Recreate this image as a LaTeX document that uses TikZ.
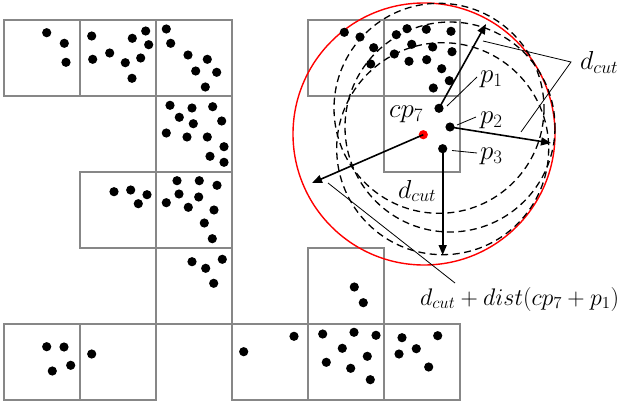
\documentclass[tikz,border=0pt]{standalone}
\usepackage{fix-cm}
\usetikzlibrary{arrows.meta}
\definecolor{gridgray}{RGB}{135,135,135}
\begin{document}
\begin{tikzpicture}[x=1pt,y=-1pt,
  cell/.style={draw=gridgray, line width=1.3pt},
  dot/.style={circle, fill=black, inner sep=0pt, minimum size=9.2pt},
  reddot/.style={circle, fill=red, inner sep=0pt, minimum size=9.2pt},
  dcirc/.style={draw=black, line width=1.3pt, dash pattern=on 7pt off 4.5pt},
  rcirc/.style={draw=red, line width=1.4pt},
  arr/.style={line width=1.6pt, -{Triangle[length=10pt,width=8pt]}},
  lead/.style={line width=0.8pt},
  lab/.style={font=\fontsize{27}{32}\selectfont, inner sep=0pt, anchor=base west},
  dlab/.style={font=\fontsize{26}{31}\selectfont, inner sep=0pt, anchor=base west},
  slab/.style={font=\fontsize{24}{29}\selectfont, inner sep=0pt, anchor=base west}]
\useasboundingbox (0,0) rectangle (621,404);
% grid cells
\foreach \cx/\cy in {0/0,1/0,2/0,2/1,1/2,2/2,2/3,0/4,1/4,3/4,4/4,5/4,4/0,5/0,5/1,4/3}
  \draw[cell] (4+76*\cx,20+76*\cy) rectangle ++(76,76);
% circles
\draw[rcirc] (424,134) circle (131);
\draw[dcirc] (439,108.3) circle (105);
\draw[dcirc] (450,127) circle (105);
\draw[dcirc] (442.7,148.7) circle (106);
% dots
\foreach [count=\i] \px/\py in {
  46.7/32.7, 64.3/43.3, 66/62.3,
  91.7/36, 145.7/31, 132.3/38.3, 148.7/44.7, 92.7/59.3, 109.7/53, 140.7/58, 125.3/62.7, 132/78.3,
  166.3/29, 170.7/43.3, 188/55, 207.3/59.3, 195.7/71, 216.7/72.3, 205.3/87,
  170/105.3, 192/108, 212.7/106.7, 179.3/117.3, 193.3/123.7, 221.7/121, 166.3/133, 187/137, 207.3/137, 224/146.7, 210/156.3, 224/162.3,
  114/191.7, 130.7/190, 147/194.7, 138.3/203.7,
  177/180.7, 199.3/180.7, 217/185.3, 179/194, 198.7/197, 166.3/202.7, 188.3/207.3, 214/210, 204.3/223, 212.3/238.7,
  192/261.7, 205.7/268.3, 222.3/259.3, 213.7/283.3,
  46.7/346.7, 64/347, 70.7/365.3, 52.3/371,
  91.7/354,
  243.7/351.7, 294/336.3,
  354.3/287, 363.3/302.7,
  322.7/334, 354/332.3, 376/335.3, 342.3/348.3, 367.3/356.3, 326.3/362.3, 350.7/368.3, 370.3/379.7,
  402/337.7, 437.7/335.7, 416.3/348.7, 399/354, 428.7/367,
  344.3/32.3, 360/37, 373.7/47.7, 370.7/64,
  396.3/34.7, 407/28.7, 426.3/29.3, 451/31.3, 411.7/44.3, 432.7/47, 452/51.7, 394.3/54, 409/61.3, 426.7/59.7, 441.7/68.7, 449.3/80.7, 433.3/88}
  \node[dot] (d\i) at (\px,\py) {};
\node[dot] (p1) at (439,108.3) {};
\node[dot] (p2) at (450,127) {};
\node[dot] (p3) at (442.7,148.7) {};
\node[reddot] (cp) at (423.3,134.7) {};
% arrow ends
\coordinate (e1) at (486,24);
\coordinate (e2) at (551,143);
\coordinate (e3) at (442.7,255);
\coordinate (e4) at (312,183);
\draw[arr] (p1.center) -- (e1);
\draw[arr] (p2.center) -- (e2);
\draw[arr] (p3.center) -- (e3);
\draw[arr] (cp.center) -- (e4);
% labels
\node[lab] (lp1) at (480,82.5) {$p_1$};
\node[lab] (lp2) at (480,123) {$p_2$};
\node[lab] (lp3) at (480,159) {$p_3$};
\node[lab] (lcp) at (389,117) {$cp_7$};
\node[dlab] (ldc1) at (580,70) {$d_{cut}$};
\node[dlab] (ldc2) at (398,198) {$d_{cut}$};
\node[slab] (lsum) at (420,305) {$d_{cut}+dist(cp_7+p_1)$};
% leader lines
\coordinate (a1) at (447,106);  \coordinate (b1) at (477,77);
\coordinate (a2) at (457,125);  \coordinate (b2) at (476,117);
\coordinate (a3) at (452,150.5);\coordinate (b3) at (477,153);
\coordinate (v) at (571,62);
\coordinate (q1) at (483,41);
\coordinate (q2) at (521,132);
\coordinate (s1) at (328,183);
\coordinate (s2) at (455,283);
\draw[lead] (a1) -- (b1);
\draw[lead] (a2) -- (b2);
\draw[lead] (a3) -- (b3);
\draw[lead] (q1) -- (v) -- (q2);
\draw[lead] (s1) -- (s2);
\end{tikzpicture}
\end{document}
